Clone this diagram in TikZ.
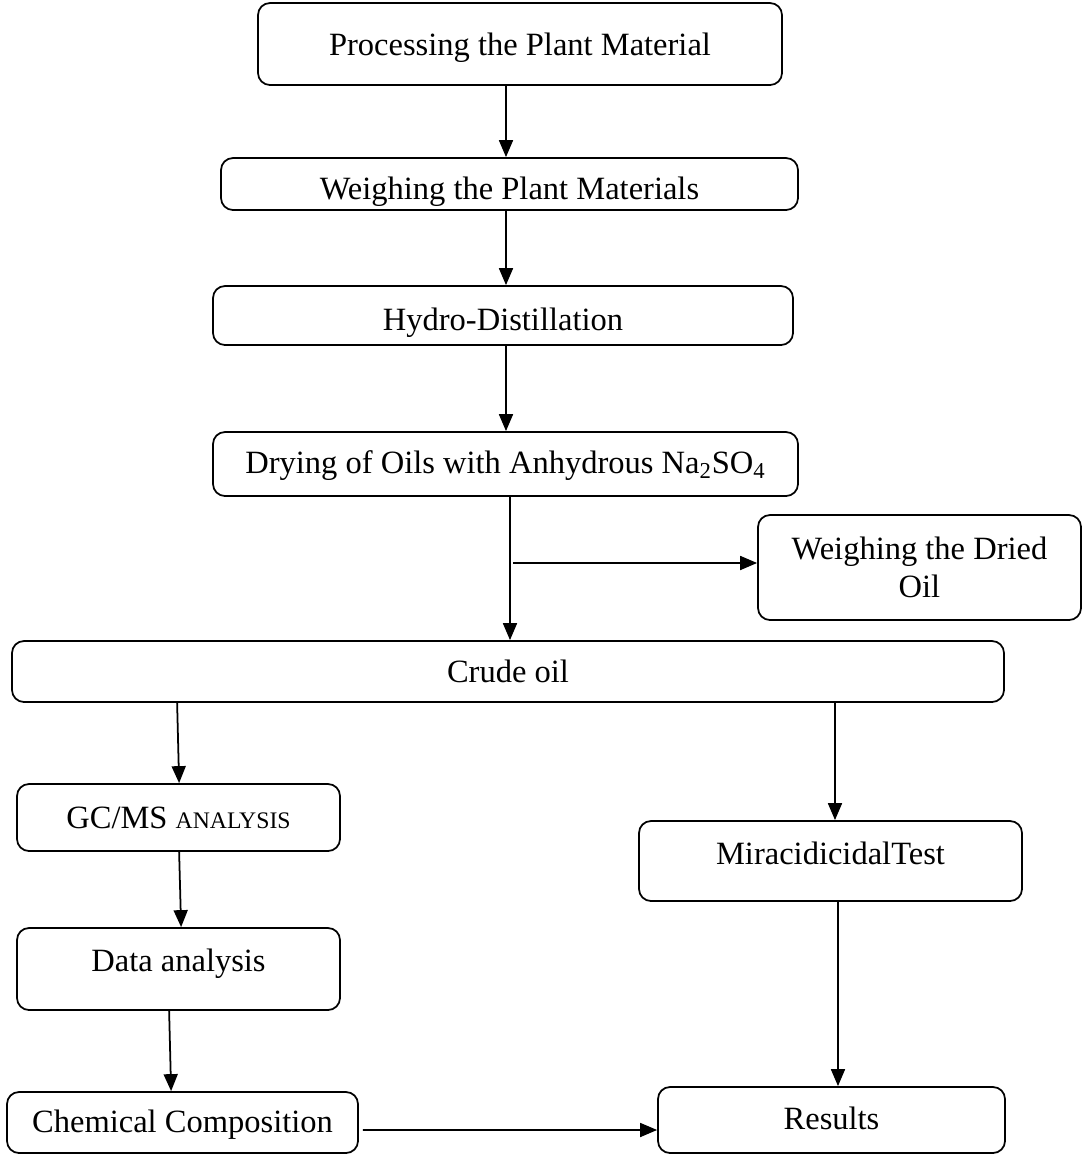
\documentclass[tikz,border=0pt]{standalone}
\usepackage{fontspec}
\setmainfont{Liberation Serif}
\usetikzlibrary{arrows.meta,calc}
\newcommand\txtshift[2]{\raisebox{#1}[\height][\depth]{#2}}
\tikzset{
  box/.style={draw, line width=1pt, rounded corners=0.24cm, inner sep=0pt,
    align=center, font=\fontsize{18.5}{22}\selectfont},
  arr/.style={line width=1pt, -{Triangle[length=0.34cm,width=0.28cm]}}
}
\begin{document}
\begin{tikzpicture}
\useasboundingbox (0,0) rectangle (21.66,-23.08);
% boxes
\node[box, minimum width=10.48cm, minimum height=1.64cm] (B1) at (10.40,-0.88) {\txtshift{-0.08cm}{Processing the Plant Material}};
\node[box, minimum width=11.54cm, minimum height=1.04cm] (B2) at (10.19,-3.68) {\txtshift{-0.16cm}{Weighing the Plant Materials}};
\node[box, minimum width=11.60cm, minimum height=1.18cm] (B3) at (10.06,-6.31) {\txtshift{-0.14cm}{Hydro-Distillation}};
\node[box, minimum width=11.70cm, minimum height=1.28cm] (B4) at (10.11,-9.28) {\txtshift{-0.04cm}{Drying of Oils with Anhydrous Na\textsubscript{2}SO\textsubscript{4}}};
\node[box, minimum width=6.46cm, minimum height=2.10cm] (B5) at (18.39,-11.35) {Weighing the Dried\\Oil};
\node[box, minimum width=19.84cm, minimum height=1.22cm] (B6) at (10.16,-13.43) {Crude oil};
\node[box, minimum width=6.46cm, minimum height=1.34cm] (B7) at (3.57,-16.35) {GC/MS {\fontsize{13.5}{14}\selectfont ANALYSIS}};
\node[box, minimum width=6.46cm, minimum height=1.64cm] (B8) at (3.57,-19.38) {\txtshift{0.1cm}{Data analysis}};
\node[box, minimum width=7.02cm, minimum height=1.22cm] (B9) at (3.65,-22.45) {\txtshift{-0.04cm}{Chemical Composition}};
\node[box, minimum width=6.94cm, minimum height=1.32cm] (B10) at (16.63,-22.40) {\txtshift{0.04cm}{Results}};
\node[box, minimum width=7.66cm, minimum height=1.60cm] (B11) at (16.61,-17.22) {\txtshift{0.16cm}{MiracidicidalTest}};
% connectors
\draw[arr] (10.12,0 |- B1.south) -- (10.12,0 |- B2.north);
\draw[arr] (10.12,0 |- B2.south) -- (10.12,0 |- B3.north);
\draw[arr] (10.12,0 |- B3.south) -- (10.12,0 |- B4.north);
\draw[arr] (10.20,0 |- B4.south) -- (10.20,0 |- B6.north);
\coordinate (side) at (10.26,-11.26);
\draw[arr] (side) -- (side -| B5.west);
\draw[arr] ([xshift=3.32cm]B6.south west) -- ([xshift=3.26cm]B7.north west);
\draw[arr] ([xshift=3.26cm]B7.south west) -- ([xshift=3.30cm]B8.north west);
\draw[arr] ([xshift=3.06cm]B8.south west) -- ([xshift=3.30cm]B9.north west);
\draw[arr] (16.70,0 |- B6.south) -- (16.70,0 |- B11.north);
\draw[arr] (16.76,0 |- B11.south) -- (16.76,0 |- B10.north);
\draw[arr] ([xshift=0.08cm,yshift=-0.15cm]B9.east) -- ([yshift=-0.20cm]B10.west);
\end{tikzpicture}
\end{document}
